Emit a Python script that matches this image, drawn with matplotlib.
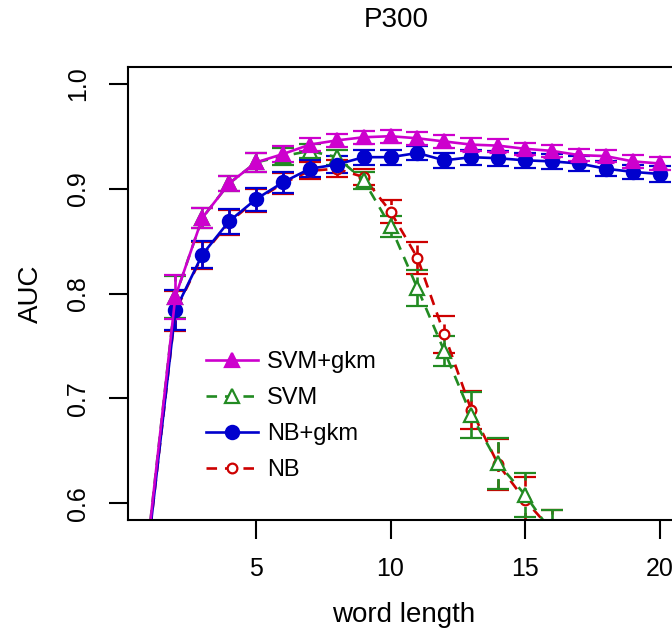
import matplotlib
matplotlib.use("Agg")
import matplotlib.pyplot as plt
from matplotlib.lines import Line2D

plt.rcParams['font.family'] = ['Liberation Sans', 'DejaVu Sans']

# word lengths
word_len = list(range(1, 21))
word_len_short = list(range(1, 17))

# AUC means and error (sd) per method
svm_gkm = [0.566, 0.797, 0.872, 0.905, 0.925, 0.933, 0.942, 0.946, 0.949, 0.950,
           0.948, 0.945, 0.942, 0.941, 0.938, 0.936, 0.932, 0.931, 0.926, 0.924]
svm_gkm_err = [0.010, 0.021, 0.010, 0.007, 0.009, 0.008, 0.006, 0.006, 0.006, 0.006,
               0.006, 0.006, 0.006, 0.006, 0.006, 0.006, 0.006, 0.006, 0.006, 0.006]
nb_gkm = [0.560, 0.784, 0.837, 0.869, 0.890, 0.906, 0.919, 0.923, 0.930, 0.930,
          0.934, 0.927, 0.930, 0.929, 0.927, 0.926, 0.924, 0.919, 0.916, 0.914]
nb_gkm_err = [0.010, 0.019, 0.013, 0.012, 0.011, 0.010, 0.008, 0.008, 0.007, 0.007,
              0.007, 0.007, 0.007, 0.007, 0.007, 0.007, 0.007, 0.007, 0.007, 0.008]
svm = [0.566, 0.797, 0.872, 0.905, 0.925, 0.931, 0.936, 0.930, 0.908, 0.864,
       0.805, 0.745, 0.684, 0.638, 0.608, 0.572]
svm_err = [0.010, 0.020, 0.010, 0.007, 0.009, 0.008, 0.007, 0.007, 0.008, 0.010,
           0.017, 0.014, 0.022, 0.024, 0.021, 0.022]
nb = [0.560, 0.783, 0.836, 0.868, 0.889, 0.905, 0.917, 0.919, 0.911, 0.878,
      0.834, 0.761, 0.689, 0.637, 0.603, 0.574]
nb_err = [0.010, 0.019, 0.013, 0.012, 0.011, 0.010, 0.008, 0.008, 0.008, 0.011,
          0.015, 0.018, 0.018, 0.024, 0.022, 0.020]

x_ticks = [5, 10, 15, 20]
y_ticks = [0.6, 0.7, 0.8, 0.9, 1.0]

DASH = (0, (4, 3))
LW = 1.9

fig = plt.figure(figsize=(6.72, 6.30), dpi=100)
# plot region runs past the right edge of the image (cropped like the original)
ax = fig.add_axes([128 / 672, 1 - 520 / 630, 552 / 672, 453 / 630])

handles = {}


def draw(x, y, err, color, marker, dashed, ms, mfc, label):
    ls = DASH if dashed else '-'
    eb = ax.errorbar(x, y, yerr=err, color=color, marker=marker, ms=ms,
                     mfc=mfc, mec=color, mew=1.6, lw=LW, elinewidth=LW,
                     capsize=8, capthick=LW, linestyle=ls)
    if dashed:
        for c in eb[2]:
            c.set_linestyle(DASH)
    handles[label] = Line2D([], [], color=color, marker=marker, ms=ms, mfc=mfc,
                            mec=color, mew=1.6, lw=LW, linestyle=ls)


draw(word_len_short, nb, nb_err, '#CD0000', 'o', True, 7, 'white', 'NB')
draw(word_len_short, svm, svm_err, '#228B22', '^', True, 10.5, 'white', 'SVM')
draw(word_len, nb_gkm, nb_gkm_err, '#0000CD', 'o', False, 9.5, '#0000CD', 'NB+gkm')
draw(word_len, svm_gkm, svm_gkm_err, '#CD00CD', '^', False, 10.5, '#CD00CD', 'SVM+gkm')

ax.set_xlim(0.24, 20.76)
ax.set_ylim(0.584, 1.016)
ax.set_xticks(x_ticks)
ax.set_yticks(y_ticks)
ax.set_yticklabels([f"{v:.1f}" for v in y_ticks], rotation=90, va='center')
ax.tick_params(labelsize=18, width=1.5, length=14, pad=13)
for s in ax.spines.values():
    s.set_linewidth(1.5)

ax.set_xlabel("word length", fontsize=20, labelpad=15)
ax.set_ylabel("AUC", fontsize=20, labelpad=16)
fig.text(0.59, 1 - 20 / 630, "P300", fontsize=20, ha='center', va='center')

order = ['SVM+gkm', 'SVM', 'NB+gkm', 'NB']
ax.legend([handles[k] for k in order], order, loc='upper left',
          bbox_to_anchor=(206 / 672, 1 - 351 / 630), bbox_transform=fig.transFigure,
          frameon=False, fontsize=17, handlelength=2.2, handletextpad=0.4,
          labelspacing=0.6, borderpad=0, borderaxespad=0)

fig.savefig("out.png", dpi=100)
